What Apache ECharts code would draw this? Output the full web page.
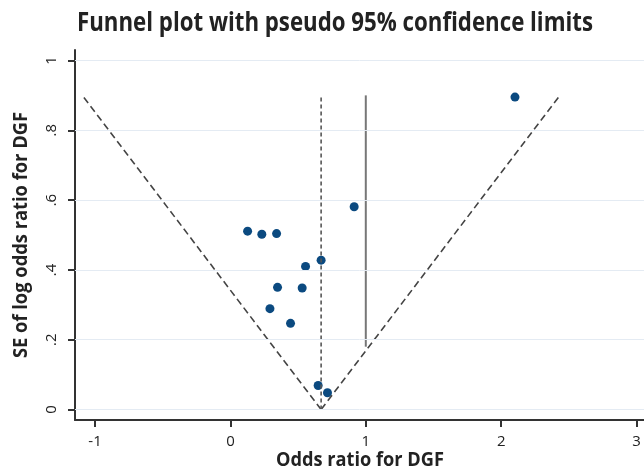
<!DOCTYPE html>
<html>
<head>
<meta charset="utf-8">
<script src="https://cdn.jsdelivr.net/npm/echarts@6/dist/echarts.min.js"></script>
<style>html,body{margin:0;padding:0;background:#fff}#c{width:644px;height:470px}</style>
</head>
<body>
<div id="c"></div>
<script>
// Study estimates: log odds ratio (x) and its standard error (y)
const logOR = [2.102, 0.914, 0.127, 0.232, 0.341, 0.670, 0.555, 0.348, 0.530, 0.292, 0.444, 0.648, 0.717];
const seLogOR = [0.895, 0.581, 0.511, 0.502, 0.504, 0.428, 0.410, 0.350, 0.348, 0.289, 0.247, 0.069, 0.048];
// Pooled estimate and funnel limits
const pooled = 0.67;
const funnelSE = [0, 0.9];
const z95 = 1.96;
// Reference line at x = 1
const refX = 1;
const refSE = [0.18, 0.9];
// Tick labels
const xTicks = [-1, 0, 1, 2, 3];
const yTicks = [0, 0.2, 0.4, 0.6, 0.8, 1];
const yTickLabels = ['0', '.2', '.4', '.6', '.8', '1'];
const titleText = 'Funnel plot with pseudo 95% confidence limits';
const xTitle = 'Odds ratio for DGF';
const yTitle = 'SE of log odds ratio for DGF';

const leftLine = [[pooled, funnelSE[0]], [pooled - z95 * funnelSE[1], funnelSE[1]]];
const rightLine = [[pooled, funnelSE[0]], [pooled + z95 * funnelSE[1], funnelSE[1]]];
const pooledLine = [[pooled, funnelSE[0]], [pooled, funnelSE[1]]];
const refLine = [[refX, refSE[0]], [refX, refSE[1]]];

// condensed look for the titles: measure and squeeze horizontally
const mctx = document.createElement('canvas').getContext('2d');
function squeeze(text, font, target) { mctx.font = font; return target / mctx.measureText(text).width; }
const titleFont = 'bold 27px "Open Sans"';
const axisTitleFont = 'bold 20px "Open Sans"';
const titleScale = squeeze(titleText, titleFont, 516);
const xTitleScale = squeeze(xTitle, axisTitleFont, 168);
const yTitleScale = squeeze(yTitle, axisTitleFont, 246);

const chart = echarts.init(document.getElementById('c'), null, {renderer: 'canvas'});
const tickFont = {fontFamily: 'Open Sans', fontSize: 15, color: '#222'};
chart.setOption({
  animation: false,
  graphic: [
    {type: 'text', left: 77, top: 10, scaleX: titleScale,
     style: {text: titleText, font: titleFont, fill: '#222'}},
    {type: 'text', x: 360, y: 460, scaleX: xTitleScale,
     style: {text: xTitle, font: axisTitleFont, fill: '#222', align: 'center', verticalAlign: 'middle'}},
    {type: 'text', x: 21, y: 235, rotation: Math.PI / 2, scaleX: yTitleScale,
     style: {text: yTitle, font: axisTitleFont, fill: '#222', align: 'center', verticalAlign: 'middle'}}
  ],
  grid: {left: 75, right: 0, top: 50, bottom: 50, containLabel: false, outerBoundsMode: 'none'},
  xAxis: {
    type: 'value', min: -1.148, max: 3.055,
    axisLine: {onZero: false, lineStyle: {color: '#333', width: 2}},
    axisTick: {show: true, length: 7, lineStyle: {color: '#333', width: 2}, customValues: xTicks},
    axisLabel: Object.assign({margin: 14, customValues: xTicks, formatter: v => String(v)}, tickFont),
    splitLine: {show: false}
  },
  yAxis: {
    type: 'value', min: -0.03, max: 1.03,
    axisLine: {onZero: false, lineStyle: {color: '#333', width: 2}},
    axisTick: {show: true, length: 7, lineStyle: {color: '#333', width: 2}, customValues: yTicks},
    axisLabel: Object.assign({margin: 16, rotate: 90, customValues: yTicks,
      formatter: v => { const i = yTicks.findIndex(t => Math.abs(t - v) < 1e-9); return i >= 0 ? yTickLabels[i] : ''; }}, tickFont),
    splitLine: {show: false}
  },
  series: [
    {
      type: 'line', data: [], silent: true,
      markLine: {
        silent: true, symbol: 'none', label: {show: false},
        lineStyle: {color: '#e4ebf3', width: 1, type: 'solid'},
        data: yTicks.map(v => ({yAxis: v}))
      }
    },
    {type: 'line', data: leftLine, symbol: 'none', lineStyle: {color: '#444', width: 1.6, type: [7, 4]}, silent: true},
    {type: 'line', data: rightLine, symbol: 'none', lineStyle: {color: '#444', width: 1.6, type: [7, 4]}, silent: true},
    {type: 'line', data: pooledLine, symbol: 'none', lineStyle: {color: '#555', width: 1.6, type: [4, 3]}, silent: true},
    {type: 'line', data: refLine, symbol: 'none', lineStyle: {color: '#777', width: 2}, silent: true},
    {
      type: 'scatter', symbolSize: 9,
      itemStyle: {color: '#0b4a80', opacity: 1},
      data: logOR.map((x, i) => [x, seLogOR[i]])
    }
  ]
});
</script>
</body>
</html>
